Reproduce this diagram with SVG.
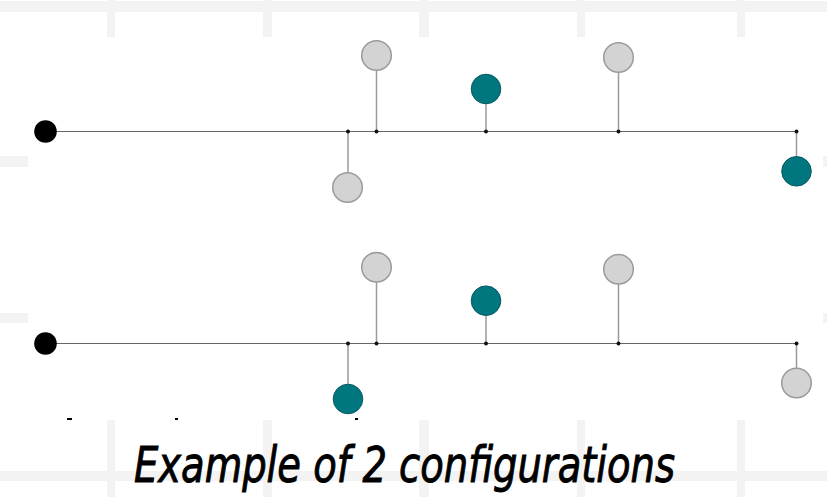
<svg xmlns="http://www.w3.org/2000/svg" width="827" height="497" viewBox="0 0 827 497">
<style>
.grid{fill:#f3f3f3}
.main{stroke:#666;stroke-width:1.2;fill:none}
.stem{stroke:#9a9a9a;stroke-width:1.5;fill:none}
.gray{fill:#d3d3d3;stroke:#9a9a9a;stroke-width:1.5}
.teal{fill:#00767f;stroke:#075a60;stroke-width:1}
.root{fill:#000}
.jn{fill:#111}
.title{font-family:"Liberation Sans Narrow","DejaVu Sans Condensed","Liberation Sans",sans-serif;font-style:italic;font-size:50px;fill:#000;stroke:#000;stroke-width:0.9}
</style>
<rect width="827" height="497" fill="#fff"/>
<g id="background">
<rect class="grid" x="0" y="1" width="827" height="11"/>
<rect class="grid" x="0" y="156" width="827" height="11"/>
<rect class="grid" x="0" y="313" width="827" height="10"/>
<rect class="grid" x="0" y="471" width="827" height="10"/>
<rect class="grid" x="107" y="0" width="8" height="497"/>
<rect class="grid" x="263" y="0" width="9" height="497"/>
<rect class="grid" x="419" y="0" width="10" height="497"/>
<rect class="grid" x="577" y="0" width="8" height="497"/>
<rect class="grid" x="737" y="0" width="8" height="497"/>
<rect x="28" y="37" width="795" height="383" fill="#fff"/>
<rect x="67" y="418" width="5" height="2" fill="#000"/>
<rect x="175" y="418" width="3" height="2" fill="#000"/>
<rect x="355" y="418" width="3" height="2" fill="#000"/>
</g>
<g id="connectors">
<line class="main" x1="45" y1="131.5" x2="797" y2="131.5"/>
<line class="stem" x1="376.5" y1="70" x2="376.5" y2="131.5"/>
<line class="stem" x1="486" y1="104" x2="486" y2="131.5"/>
<line class="stem" x1="618.5" y1="72" x2="618.5" y2="131.5"/>
<line class="stem" x1="348" y1="131.5" x2="348" y2="172"/>
<line class="stem" x1="796.5" y1="131.5" x2="796.5" y2="156"/>
<line class="main" x1="45" y1="343.5" x2="797" y2="343.5"/>
<line class="stem" x1="376.5" y1="282" x2="376.5" y2="343.5"/>
<line class="stem" x1="486" y1="316" x2="486" y2="343.5"/>
<line class="stem" x1="618.5" y1="284" x2="618.5" y2="343.5"/>
<line class="stem" x1="348" y1="343.5" x2="348" y2="384"/>
<line class="stem" x1="796.5" y1="343.5" x2="796.5" y2="368"/>
</g>
<g id="config1">
<g id="c1-root"><circle class="root" cx="45.5" cy="131.5" r="11.3"/></g>
<g id="c1-junctions">
<circle class="jn" cx="348" cy="131.5" r="2"/>
<circle class="jn" cx="376.5" cy="131.5" r="2"/>
<circle class="jn" cx="486" cy="131.5" r="2"/>
<circle class="jn" cx="618.5" cy="131.5" r="2"/>
<circle class="jn" cx="796.5" cy="131.5" r="2"/>
</g>
<g id="c1-n1"><circle class="gray" cx="376.5" cy="55.5" r="14.8"/></g>
<g id="c1-n2"><circle class="teal" cx="486" cy="89" r="14.8"/></g>
<g id="c1-n3"><circle class="gray" cx="618.5" cy="57.5" r="14.8"/></g>
<g id="c1-n4"><circle class="gray" cx="347.5" cy="187.5" r="14.8"/></g>
<g id="c1-n5"><circle class="teal" cx="796.5" cy="171.3" r="14.8"/></g>
</g>
<g id="config2">
<g id="c2-root"><circle class="root" cx="45.5" cy="343.5" r="11.3"/></g>
<g id="c2-junctions">
<circle class="jn" cx="348" cy="343.5" r="2"/>
<circle class="jn" cx="376.5" cy="343.5" r="2"/>
<circle class="jn" cx="486" cy="343.5" r="2"/>
<circle class="jn" cx="618.5" cy="343.5" r="2"/>
<circle class="jn" cx="796.5" cy="343.5" r="2"/>
</g>
<g id="c2-n1"><circle class="gray" cx="376.5" cy="267.3" r="14.8"/></g>
<g id="c2-n2"><circle class="teal" cx="486" cy="300.7" r="14.8"/></g>
<g id="c2-n3"><circle class="gray" cx="618.5" cy="269.3" r="14.8"/></g>
<g id="c2-n4"><circle class="teal" cx="348" cy="399" r="14.8"/></g>
<g id="c2-n5"><circle class="gray" cx="796.5" cy="383" r="14.8"/></g>
</g>
<g id="caption">
<text class="title" x="134" y="482" textLength="541" lengthAdjust="spacingAndGlyphs">Example of 2 configurations</text>
</g>
</svg>
